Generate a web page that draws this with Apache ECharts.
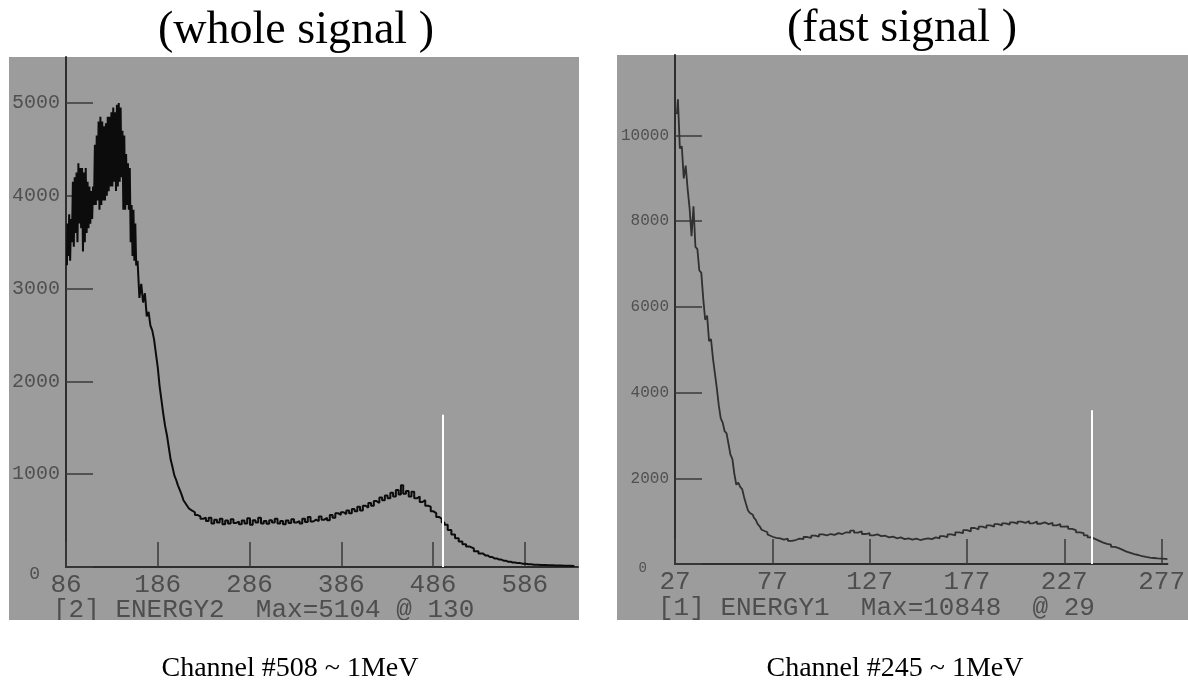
<!DOCTYPE html>
<html>
<head>
<meta charset="utf-8">
<script src="https://cdn.jsdelivr.net/npm/echarts@6/dist/echarts.min.js"></script>
<style>
  html, body { margin: 0; padding: 0; background: #fff; }
  #main { width: 1188px; height: 696px; }
</style>
</head>
<body>
<div id="main"></div>
<script>
// whole signal: [channel, counts]
const wholeSignal = [
  [87, 3250], [88, 3700], [89, 3350], [90, 3800], [91, 3300], [92, 3750], [93, 3500],
  [94, 4150], [95, 3450], [96, 4200], [97, 3600], [98, 4250], [99, 3500], [100, 4350],
  [101, 3700], [102, 4300], [103, 3650], [104, 4300], [105, 3400], [106, 4250], [107, 3500],
  [108, 4300], [109, 3600], [110, 4150], [111, 3650], [112, 4100], [113, 3700], [114, 4050],
  [115, 3750], [116, 4100], [117, 3900], [118, 4550], [119, 3900], [120, 4650], [121, 3950],
  [122, 4800], [123, 3850], [124, 4850], [125, 3900], [126, 4800], [127, 3950], [128, 4750],
  [129, 3950], [130, 4780], [131, 4000], [132, 4850], [133, 4050], [134, 4850], [135, 4100],
  [136, 4900], [137, 4100], [138, 4950], [139, 4150], [140, 4900], [141, 4050], [142, 4980],
  [143, 4100], [144, 5000], [145, 4150], [146, 4950], [147, 4200], [148, 4700], [149, 3850],
  [150, 4650], [151, 3850], [152, 4450], [153, 3900], [154, 4350], [155, 3850], [156, 4300],
  [157, 3500], [158, 3900], [159, 3350], [160, 3850], [161, 3300], [162, 3700], [163, 3250],
  [165, 3300], [167, 2900], [169, 3050], [171, 2850], [173, 2950], [175, 2700], [177, 2750],
  [179, 2600], [181, 2550], [183, 2450], [185, 2300], [187, 2150], [189, 1950], [191, 1800],
  [193, 1650], [195, 1520], [197, 1420],
  [199, 1290], [201, 1160], [203, 1080], [205, 990], [207, 940], [209, 880], [211, 830],
  [213, 780], [215, 720], [217, 690], [219, 660], [221, 630], [223, 610], [225, 590],
  [228, 560], [231, 545], [234, 520], [237, 530], [240, 495], [243, 530], [246, 470],
  [249, 510], [252, 480], [255, 520], [258, 460], [261, 500], [264, 470], [267, 515],
  [270, 475], [273, 490], [276, 460], [279, 500], [282, 470], [285, 525], [288, 455],
  [291, 505], [294, 480], [297, 530], [300, 470], [303, 495], [306, 465], [309, 505],
  [312, 480], [315, 520], [318, 470], [321, 495], [324, 460], [327, 500], [330, 475],
  [333, 515], [336, 480], [339, 495], [342, 470], [345, 520], [348, 485], [351, 540],
  [354, 490], [357, 510], [360, 495], [363, 545], [366, 510], [369, 530], [372, 505],
  [375, 560], [378, 530], [381, 580], [384, 560], [387, 590], [390, 570], [393, 610],
  [396, 580], [399, 625], [402, 600], [405, 650], [408, 610], [411, 660], [414, 640],
  [417, 690], [420, 660], [423, 710], [426, 690], [429, 750], [432, 720], [435, 770],
  [438, 740], [441, 800], [444, 760], [447, 830], [450, 780], [452, 880], [455, 790],
  [458, 820], [461, 760], [464, 810], [467, 740], [470, 760], [473, 700], [476, 720],
  [479, 660], [482, 650], [485, 600], [488, 580], [491, 540], [494, 520], [497, 480],
  [500, 455], [504, 400], [508, 350], [512, 310], [516, 275], [520, 245], [524, 220],
  [528, 200], [533, 170], [538, 145], [543, 125], [548, 108], [553, 92], [558, 80],
  [563, 68], [568, 56], [573, 48], [578, 42], [584, 35], [590, 30], [596, 25],
  [604, 22], [612, 18], [620, 16], [630, 14], [640, 12]
];

// fast signal: [channel, counts]
const fastSignal = [
  [28, 10500], [29, 10848], [30, 9700], [31, 9750], [32, 9000], [33, 9300], [34, 8750],
  [35, 8300], [36, 7650], [37, 8350], [38, 7400], [39, 7350], [40, 6850], [41, 6800],
  [42, 6200], [43, 5700], [44, 5800], [45, 5200], [46, 5250], [47, 4800], [48, 4450],
  [49, 4100], [50, 3700], [51, 3400], [52, 3300], [53, 3100], [54, 3050], [55, 2800],
  [56, 2550], [57, 2450], [58, 2100], [59, 1850], [60, 1900], [61, 1800], [62, 1750],
  [63, 1560], [64, 1400], [65, 1250], [66, 1190], [67, 1150], [68, 1080], [69, 1030],
  [70, 930], [71, 880], [72, 800], [73, 770], [74, 740], [75, 690], [76, 660],
  [77, 630], [78, 610], [80, 600], [82, 570], [84, 590], [86, 540], [88, 560],
  [90, 590], [92, 580], [94, 630], [96, 610], [98, 660], [100, 640], [102, 690],
  [104, 670], [106, 700], [108, 680], [110, 720], [112, 700], [114, 740], [116, 730],
  [118, 780], [120, 730], [122, 760], [124, 700], [126, 720], [128, 670], [130, 690],
  [132, 650], [134, 660], [136, 620], [138, 640], [140, 600], [142, 620], [144, 580],
  [146, 600], [148, 570], [150, 590], [152, 560], [154, 580], [156, 600], [158, 580],
  [160, 620], [162, 600], [164, 650], [166, 630], [168, 690], [170, 670], [172, 740],
  [174, 720], [176, 790], [178, 760], [180, 840], [182, 810], [184, 870], [186, 840],
  [188, 900], [190, 870], [192, 930], [194, 900], [196, 950], [198, 920], [200, 970],
  [202, 940], [204, 990], [206, 960], [208, 1000], [210, 950], [212, 990], [214, 940],
  [216, 970], [218, 930], [220, 960], [222, 900], [224, 930], [226, 870], [228, 880],
  [230, 820], [232, 790], [234, 740], [236, 720], [238, 670], [240, 620], [242, 580],
  [244, 540], [246, 500], [248, 470], [250, 450], [252, 400], [254, 370], [256, 330],
  [258, 290], [260, 260], [262, 230], [264, 210], [266, 185], [268, 165], [270, 150],
  [272, 140], [274, 130], [276, 125], [278, 120], [280, 115]
];

const wholeXTicks = [86, 186, 286, 386, 486, 586];
const wholeYTicks = [0, 1000, 2000, 3000, 4000, 5000];
const fastXTicks = [27, 77, 127, 177, 227, 277];
const fastYTicks = [0, 2000, 4000, 6000, 8000, 10000];

// white marker lines: [channel, height]
const wholeMarker = [497, 1640];
const fastMarker = [241, 3590];

const titles = ['(whole signal )', '(fast signal )'];
const footers = ['[2] ENERGY2  Max=5104 @ 130', '[1] ENERGY1  Max=10848  @ 29'];
const captions = ['Channel #508 ~ 1MeV', 'Channel #245 ~ 1MeV'];

const chart = echarts.init(document.getElementById('main'));

const panelGray = '#9c9c9c';
const mono = 'Liberation Mono';

function xAxisFor(idx, min, max, ticks) {
  return {
    type: 'value', gridIndex: idx, min: min, max: max,
    axisLine: { lineStyle: { color: '#2e2e2e', width: 2 } },
    axisTick: { inside: true, length: 25, customValues: ticks, lineStyle: { color: '#3a3a3a', width: 1.5 } },
    axisLabel: { customValues: ticks, fontFamily: mono, fontSize: 26, color: '#4e4e4e', margin: 5 },
    splitLine: { show: false }
  };
}

function yAxisFor(idx, max, ticks, size, zeroPad) {
  return {
    type: 'value', gridIndex: idx, min: 0, max: max,
    axisLine: { lineStyle: { color: '#2e2e2e', width: 2 } },
    axisTick: { inside: true, length: 27, customValues: ticks, lineStyle: { color: '#3a3a3a', width: 1.5 } },
    axisLabel: {
      customValues: ticks, fontFamily: mono, fontSize: size, color: '#505050', margin: 6,
      formatter: v => (v === 0 ? '{z|0}' : String(v)),
      rich: { z: { fontFamily: mono, fontSize: size - 2, color: '#505050', padding: zeroPad } }
    },
    splitLine: { show: false }
  };
}

function markerLine(m) {
  return {
    silent: true, symbol: 'none',
    label: { show: false },
    lineStyle: { color: '#ffffff', width: 2, type: 'solid' },
    data: [[{ coord: [m[0], 0] }, { coord: [m[0], m[1]] }]]
  };
}

const option = {
  animation: false,
  backgroundColor: '#ffffff',
  graphic: [
    { type: 'rect', z: -10, shape: { x: 9, y: 57, width: 570, height: 563 }, style: { fill: panelGray } },
    { type: 'rect', z: -10, shape: { x: 617, y: 55, width: 571, height: 565 }, style: { fill: panelGray } },
    { type: 'text', z: -5, style: { x: 53, y: 597, text: footers[0], font: '26px "Liberation Mono"', fill: '#4e4e4e' } },
    { type: 'text', z: -5, style: { x: 658, y: 595, text: footers[1], font: '26px "Liberation Mono"', fill: '#4e4e4e' } },
    { type: 'rect', z: -4, shape: { x: 0, y: 620, width: 1188, height: 30 }, style: { fill: '#ffffff' } },
    { type: 'text', style: { x: 296, y: 31, text: titles[0], font: '46px "Liberation Serif"', fill: '#000', align: 'center', verticalAlign: 'middle' } },
    { type: 'text', style: { x: 902, y: 29, text: titles[1], font: '46px "Liberation Serif"', fill: '#000', align: 'center', verticalAlign: 'middle' } },
    { type: 'text', style: { x: 290, y: 669, text: captions[0], font: '28px "Liberation Serif"', fill: '#000', align: 'center', verticalAlign: 'middle' } },
    { type: 'text', style: { x: 895, y: 669, text: captions[1], font: '28px "Liberation Serif"', fill: '#000', align: 'center', verticalAlign: 'middle' } }
  ],
  grid: [
    { left: 66, top: 57, width: 512, height: 510 },
    { left: 675, top: 55, width: 513, height: 509 }
  ],
  xAxis: [
    xAxisFor(0, 86, 644, wholeXTicks),
    xAxisFor(1, 27, 280, fastXTicks)
  ],
  yAxis: [
    yAxisFor(0, 5495, wholeYTicks, 20, [14, 20, 0, 0]),
    yAxisFor(1, 11880, fastYTicks, 16, [8, 22, 0, 0])
  ],
  series: [
    {
      type: 'line', xAxisIndex: 0, yAxisIndex: 0, data: wholeSignal,
      step: 'middle', symbol: 'none',
      lineStyle: { color: '#0c0c0c', width: 2 },
      markLine: markerLine(wholeMarker)
    },
    {
      type: 'line', xAxisIndex: 1, yAxisIndex: 1, data: fastSignal,
      step: 'middle', symbol: 'none',
      lineStyle: { color: '#303030', width: 1.8 },
      markLine: markerLine(fastMarker)
    }
  ]
};

chart.setOption(option);
</script>
</body>
</html>
